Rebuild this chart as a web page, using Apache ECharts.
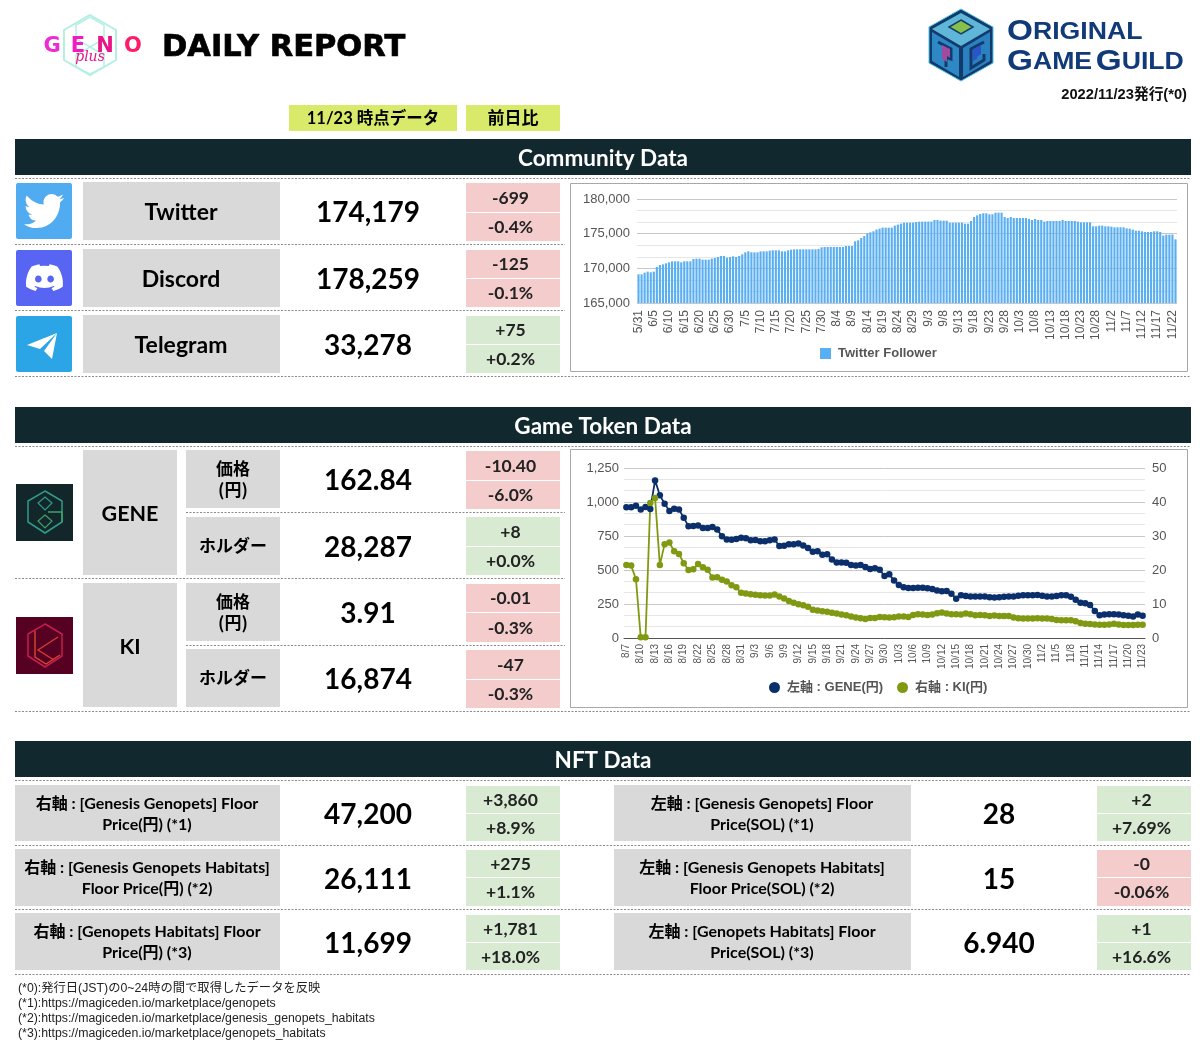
<!DOCTYPE html>
<html><head><meta charset="utf-8">
<style>html,body{margin:0;padding:0;background:#fff}#c{width:1200px;height:1050px}</style>
<script src="https://cdn.jsdelivr.net/npm/echarts@6/dist/echarts.min.js"></script>
</head><body><div id="c"></div>
<script>
const twitterDates = ["5/31",
"6/1","6/2","6/3","6/4","6/5","6/6","6/7","6/8","6/9","6/10","6/11","6/12","6/13","6/14","6/15","6/16","6/17","6/18","6/19","6/20","6/21","6/22","6/23","6/24","6/25","6/26","6/27","6/28","6/29","6/30",
"7/1","7/2","7/3","7/4","7/5","7/6","7/7","7/8","7/9","7/10","7/11","7/12","7/13","7/14","7/15","7/16","7/17","7/18","7/19","7/20","7/21","7/22","7/23","7/24","7/25","7/26","7/27","7/28","7/29","7/30","7/31",
"8/1","8/2","8/3","8/4","8/5","8/6","8/7","8/8","8/9","8/10","8/11","8/12","8/13","8/14","8/15","8/16","8/17","8/18","8/19","8/20","8/21","8/22","8/23","8/24","8/25","8/26","8/27","8/28","8/29","8/30","8/31",
"9/1","9/2","9/3","9/4","9/5","9/6","9/7","9/8","9/9","9/10","9/11","9/12","9/13","9/14","9/15","9/16","9/17","9/18","9/19","9/20","9/21","9/22","9/23","9/24","9/25","9/26","9/27","9/28","9/29","9/30",
"10/1","10/2","10/3","10/4","10/5","10/6","10/7","10/8","10/9","10/10","10/11","10/12","10/13","10/14","10/15","10/16","10/17","10/18","10/19","10/20","10/21","10/22","10/23","10/24","10/25","10/26","10/27","10/28","10/29","10/30","10/31",
"11/1","11/2","11/3","11/4","11/5","11/6","11/7","11/8","11/9","11/10","11/11","11/12","11/13","11/14","11/15","11/16","11/17","11/18","11/19","11/20","11/21","11/22","11/23"];
const twitterFollowers = [
169135,169135,169375,169520,169425,169520,170190,170480,170575,170720,
170865,171010,171010,171010,170865,171010,171010,171010,171350,171395,
171395,171250,171250,171250,171395,171490,171635,171780,171780,171540,
171635,171730,171635,171780,172020,172310,172450,172310,172310,172310,
172450,172450,172450,172550,172600,172600,172600,172450,172450,172600,
172690,172740,172740,172740,172740,172740,172740,172740,172740,172790,
173030,173080,173080,173080,173080,173080,173080,173080,173220,173220,
173220,173895,174040,174375,174665,175050,175190,175340,175580,175720,
175865,175865,175865,175865,176155,176300,176445,176590,176590,176590,
176590,176685,176735,176735,176735,176735,176735,176970,176970,176875,
176875,176875,176590,176590,176590,176590,176590,176445,176445,176830,
177405,177645,177840,177935,177935,177790,177790,178030,178030,178030,
177405,177260,177405,177260,177260,177260,177260,177260,177115,176970,
177115,176970,176970,176735,176830,176830,176830,176830,176830,176970,
176830,176830,176830,176830,176735,176640,176640,176640,176640,176060,
176060,176155,176155,176060,176060,176010,175915,175915,175915,175915,
175770,175720,175580,175435,175435,175340,175240,175240,175240,175340,
175340,175240,174725,174860,174860,174878,174179];
const tokenDates = ["8/7","8/8","8/9","8/10","8/11","8/12","8/13","8/14","8/15","8/16","8/17","8/18","8/19","8/20","8/21","8/22","8/23","8/24","8/25","8/26","8/27","8/28","8/29","8/30","8/31",
"9/1","9/2","9/3","9/4","9/5","9/6","9/7","9/8","9/9","9/10","9/11","9/12","9/13","9/14","9/15","9/16","9/17","9/18","9/19","9/20","9/21","9/22","9/23","9/24","9/25","9/26","9/27","9/28","9/29","9/30",
"10/1","10/2","10/3","10/4","10/5","10/6","10/7","10/8","10/9","10/10","10/11","10/12","10/13","10/14","10/15","10/16","10/17","10/18","10/19","10/20","10/21","10/22","10/23","10/24","10/25","10/26","10/27","10/28","10/29","10/30","10/31",
"11/1","11/2","11/3","11/4","11/5","11/6","11/7","11/8","11/9","11/10","11/11","11/12","11/13","11/14","11/15","11/16","11/17","11/18","11/19","11/20","11/21","11/22","11/23"];
const genePrice = [
961,961,973,944,963,949,1159,1049,988,934,
951,944,885,821,824,828,809,809,816,797,
748,725,723,728,738,733,718,721,711,711,
718,725,676,679,689,689,694,681,662,635,
637,613,615,578,556,556,554,537,534,537,
522,507,512,502,456,468,422,390,373,368,
368,370,370,365,360,350,343,346,326,289,
314,309,306,306,306,306,299,297,299,304,
306,306,311,314,314,314,316,311,306,306,
309,314,314,304,282,260,255,243,199,167,
172,174,174,172,167,164,159,172,162.84];
const kiPrice = [
21.5,21.3,17.3,0.2,0.2,39.7,41.2,21.5,27.6,28.1,
25.5,24.7,22,20,20.2,21.8,20.8,20.1,17.8,17.9,
17.1,16.6,15.5,14.9,13.3,13.1,12.9,12.7,12.6,12.5,
12.5,12.8,12.2,11.6,10.9,10.4,9.9,9.6,9.2,8.3,
8.1,7.9,7.7,7.4,7.2,6.9,6.7,6.3,6,5.8,
5.6,5.9,5.9,6.2,6.1,6,6.1,6.3,6.3,6.2,
6.8,7,6.9,6.8,6.9,7.3,7.5,7.2,7,7,
6.9,7.2,7,6.7,6.8,6.7,6.5,6.6,6.5,6.5,
6.5,6,5.8,5.7,5.7,5.7,5.8,5.7,5.7,5.6,
5.3,5.2,5.2,5.2,4.9,4.4,4.2,4.1,4,3.9,
3.9,4,4.2,4,3.8,3.8,3.8,3.9,3.91];
const seriesNames = ["Twitter Follower","左軸 : GENE(円)","右軸 : KI(円)"];
const communityNames = ["Twitter","Discord","Telegram"];
const communityValues = ["174,179","178,259","33,278"];
const communityDiffs = [["-699","-0.4%"],["-125","-0.1%"],["+75","+0.2%"]];
const tokenValues = ["162.84","28,287","3.91","16,874"];
const tokenDiffs = [["-10.40","-6.0%"],["+8","+0.0%"],["-0.01","-0.3%"],["-47","-0.3%"]];
const nftLeftNames = ["右軸 : [Genesis Genopets] Floor\nPrice(円) (*1)","右軸 : [Genesis Genopets Habitats]\nFloor Price(円) (*2)","右軸 : [Genopets Habitats] Floor\nPrice(円) (*3)"];
const nftLeftValues = ["47,200","26,111","11,699"];
const nftLeftDiffs = [["+3,860","+8.9%"],["+275","+1.1%"],["+1,781","+18.0%"]];
const nftRightNames = ["左軸 : [Genesis Genopets] Floor\nPrice(SOL) (*1)","左軸 : [Genesis Genopets Habitats]\nFloor Price(SOL) (*2)","左軸 : [Genopets Habitats] Floor\nPrice(SOL) (*3)"];
const nftRightValues = ["28","15","6.940"];
const nftRightDiffs = [["+2","+7.69%"],["-0","-0.06%"],["+1","+16.6%"]];
const footnotes = ["(*0):発行日(JST)の0~24時の間で取得したデータを反映","(*1):https://magiceden.io/marketplace/genopets","(*2):https://magiceden.io/marketplace/genesis_genopets_habitats","(*3):https://magiceden.io/marketplace/genopets_habitats"];

const BODY = 'Lato,"Noto Sans CJK JP",sans-serif';
const ARIAL = '"Liberation Sans","Noto Sans CJK JP",sans-serif';
const G = [];
const rect=(x,y,w,h,fill,extra)=>G.push({type:'rect',silent:true,shape:Object.assign({x,y,width:w,height:h},extra||{}),style:{fill}});
const txt=(text,x,y,font,fill,align,lh)=>G.push({type:'text',silent:true,style:{text,x,y,font,fill:fill||'#000',align:align||'center',verticalAlign:'middle',lineHeight:lh}});
const dot=(x1,x2,y)=>G.push({type:'line',silent:true,shape:{x1,y1:y+.5,x2,y2:y+.5},style:{stroke:'#8a8a8a',lineWidth:1,lineDash:[2,1.5]}});
const poly=(points,fill,stroke,lw)=>G.push({type:'polygon',silent:true,shape:{points},style:{fill:fill||'none',stroke,lineWidth:lw||0}});
const pline=(points,stroke,lw)=>G.push({type:'polyline',silent:true,shape:{points},style:{fill:'none',stroke,lineWidth:lw||1}});
echarts.graphic.registerShape('twitterBird',echarts.graphic.extendPath('M23.953 4.57a10 10 0 0 1-2.825.775 4.958 4.958 0 0 0 2.163-2.723c-.951.555-2.005.959-3.127 1.184a4.92 4.92 0 0 0-8.384 4.482C7.69 8.095 4.067 6.13 1.64 3.162a4.822 4.822 0 0 0-.666 2.475c0 1.71.87 3.213 2.188 4.096a4.904 4.904 0 0 1-2.228-.616v.06a4.923 4.923 0 0 0 3.946 4.827 4.996 4.996 0 0 1-2.212.085 4.936 4.936 0 0 0 4.604 3.417 9.867 9.867 0 0 1-6.102 2.105c-.39 0-.779-.023-1.17-.067a13.995 13.995 0 0 0 7.557 2.209c9.053 0 13.998-7.496 13.998-13.985 0-.21 0-.42-.015-.63A9.935 9.935 0 0 0 24 4.59z',{}));
echarts.graphic.registerShape('discordFace',echarts.graphic.extendPath('M20.317 4.37a19.791 19.791 0 0 0-4.885-1.515.074.074 0 0 0-.079.037c-.21.375-.444.864-.608 1.25a18.27 18.27 0 0 0-5.487 0 12.64 12.64 0 0 0-.617-1.25.077.077 0 0 0-.079-.037A19.736 19.736 0 0 0 3.677 4.37a.07.07 0 0 0-.032.027C.533 9.046-.32 13.58.099 18.057a.082.082 0 0 0 .031.057 19.9 19.9 0 0 0 5.993 3.03.078.078 0 0 0 .084-.028 14.09 14.09 0 0 0 1.226-1.994.076.076 0 0 0-.041-.106 13.107 13.107 0 0 1-1.872-.892.077.077 0 0 1-.008-.128 10.2 10.2 0 0 0 .372-.292.074.074 0 0 1 .077-.01c3.928 1.793 8.18 1.793 12.062 0a.074.074 0 0 1 .078.01c.12.098.246.198.373.292a.077.077 0 0 1-.006.127 12.299 12.299 0 0 1-1.873.892.077.077 0 0 0-.041.107c.36.698.772 1.362 1.225 1.993a.076.076 0 0 0 .084.028 19.839 19.839 0 0 0 6.002-3.03.077.077 0 0 0 .032-.054c.5-5.177-.838-9.674-3.549-13.66a.061.061 0 0 0-.031-.03zM8.02 15.33c-1.183 0-2.157-1.085-2.157-2.419 0-1.333.956-2.419 2.157-2.419 1.21 0 2.176 1.096 2.157 2.42 0 1.333-.956 2.418-2.157 2.418zm7.975 0c-1.183 0-2.157-1.085-2.157-2.419 0-1.333.955-2.419 2.157-2.419 1.21 0 2.176 1.096 2.157 2.42 0 1.333-.946 2.418-2.157 2.418z',{}));
const icon=(type,x,y,sx,sy,fill)=>G.push({type,silent:true,x,y,scaleX:sx,scaleY:sy,shape:{},style:{fill}});
const PINK='#f4cccc',GREEN='#d9ead3',CELL='#d9d9d9',BAND='#10282e',LIME='#d9ea6b';
const diffColor=s=>s[0]==='+'?GREEN:PINK;
function diffCell(x,w,y1,y2,y3,pair){
  const c=diffColor(pair[0]);
  rect(x,y1,w,y2-y1-1,c); rect(x,y2,w,y3-y2,c);
  const f='bold 17.5px '+BODY;
  txt(pair[0],x+w/2-2.5,(y1+y2-1)/2+.5,f,'#222'); txt(pair[1],x+w/2-2.5,(y2+y3)/2+.5,f,'#222');
}
function band(y,t){rect(15,y,1176,36,BAND);txt(t,603,y+20,'bold 22.5px '+BODY,'#fff');}

// Header: GENO logo
const hx=90,hy=45;
poly([[hx,hy-30],[hx+26,hy-15],[hx+26,hy+15],[hx,hy+30],[hx-26,hy+15],[hx-26,hy-15]],'none','#b5efe4',2);
poly([[hx,hy-28],[hx+14,hy-20],[hx+14,hy-6],[hx,hy+2],[hx-14,hy-6],[hx-14,hy-20]],'none','#b5efe4',1.5);
poly([[hx,hy+2],[hx+14,hy+10],[hx+14,hy+22],[hx,hy+29],[hx-14,hy+22],[hx-14,hy+10]],'none','#b5efe4',1.5);
[['G',52,'#ee2ad2'],['E',78,'#f01cc0'],['N',105,'#e81488'],['O',133,'#ff1a6a']].forEach(l=>txt(l[0],l[1],hy+2,'bold 21px "DejaVu Sans"',l[2]));
G.push({type:'text',silent:true,style:{text:'plus',x:90,y:57,font:'italic 14px "DejaVu Serif"',fill:'#e81488',align:'center',verticalAlign:'middle'}});
G.push({type:'text',silent:true,style:{text:'DAILY REPORT',x:162,y:48,font:'bold 30.5px "DejaVu Sans"',fill:'#000',stroke:'#000',lineWidth:.7,align:'left',verticalAlign:'middle'}});

// Header: OGG logo
const cx=961;
poly([[cx,9],[993,27],[993,63],[cx,81],[929,63],[929,27]],'#123a6b','#4fc3e8',1);
poly([[cx,13],[990,29],[cx,46],[932,29]],'#5fb6d8');
poly([[932,32],[959,48],[959,77],[932,61]],'#2f88c6');
poly([[990,32],[963,48],[963,77],[990,61]],'#2b80c0');
poly([[cx,20],[973,27],[cx,34],[949,27]],'#86bf4a','#123a6b',1.5);
pline([[938,42],[951,49],[951,59],[946,57],[946,67]],'#123a6b',3);
pline([[984,42],[971,49],[971,68],[984,60],[984,54]],'#123a6b',3);
poly([[942,45],[950,49],[950,58],[947,56],[947,62],[942,59]],'#a04aa0');
poly([[973,49],[981,45],[981,54],[977,57],[977,59],[973,61]],'#2a55c8');
const logoRich={a:{font:'bold 30px "Liberation Sans"',fill:'#103a78'},b:{font:'bold 24px "Liberation Sans"',fill:'#103a78'}};
G.push({type:'text',silent:true,x:1007,y:32,scaleX:1.11,style:{text:'{a|O}{b|RIGINAL}',x:0,y:0,align:'left',verticalAlign:'middle',rich:logoRich}});
G.push({type:'text',silent:true,x:1007,y:62,scaleX:1.11,style:{text:'{a|G}{b|AME} {a|G}{b|UILD}',x:0,y:0,align:'left',verticalAlign:'middle',rich:logoRich}});
txt('2022/11/23発行(*0)',1187,95,'bold 14.7px '+ARIAL,'#111','right');

// Column titles
rect(289,105,168,26,LIME);txt('11/23 時点データ',373,119,'bold 16.5px '+BODY,'#000');
rect(466,105,94,26,LIME);txt('前日比',513,119,'bold 17px '+BODY,'#000');

// Community
band(139,'Community Data');
dot(15,1191,178);dot(15,565,244);dot(15,565,310);dot(15,1191,376);
const commY=[[183,239],[250,306],[316,372]];
const commIcon=['#50abf1','#5865f2','#2ca5e6'];
const commDiffY=[[183,213,241],[250,279,307],[316,345,373]];
commY.forEach((r,i)=>{
  rect(16,r[0],56,56,commIcon[i],{r:2});
  rect(83,r[0]-1,197,58,CELL);
  txt(communityNames[i],181,r[0]+30,'bold 23px '+BODY);
  txt(communityValues[i],368,r[0]+30,'bold 28px '+BODY);
  diffCell(466,94,commDiffY[i][0],commDiffY[i][1],commDiffY[i][2],communityDiffs[i]);
});
icon('twitterBird',24,190,1.67,1.75,'#fff');
icon('discordFace',26,260,1.54,1.47,'#fff');
poly([[57,333],[27,345],[40,349],[57,333],[44,351],[52,359]],'#fff');
G.push({type:'rect',silent:true,shape:{x:570.5,y:183.5,width:617,height:188},style:{fill:'none',stroke:'#a8a8a8',lineWidth:1}});

// Game Token
band(407,'Game Token Data');
dot(15,1191,446);dot(186,565,512);dot(15,565,578);dot(186,565,645);dot(15,1191,711);
rect(83,450,94,125,CELL);txt('GENE',130,514,'bold 21.5px '+BODY);
rect(83,583,94,124,CELL);txt('KI',130,647,'bold 21.5px '+BODY);
const tokY=[[450,508],[517,575],[583,641],[649,707]];
const tokDiffY=[[451,481,509],[517,547,575],[584,613,642],[650,680,708]];
tokY.forEach((r,i)=>{
  rect(186,r[0],94,r[1]-r[0],CELL);
  if(i%2===0) txt('価格\n(円)',233,(r[0]+r[1])/2,'bold 17px "Noto Sans CJK JP"','#000','center',21);
  else txt('ホルダー',233,(r[0]+r[1])/2,'bold 17px "Noto Sans CJK JP"');
  txt(tokenValues[i],368,(r[0]+r[1])/2+2,'bold 28px '+BODY);
  diffCell(466,94,tokDiffY[i][0],tokDiffY[i][1],tokDiffY[i][2],tokenDiffs[i]);
});
// GENE icon
rect(16,484,57,57,'#13272b');
poly([[45,491],[62,501],[62,522],[45,533],[28,522],[28,501]],'none','#2f9c8a',1.5);
poly([[45,497],[52,503],[45,510],[38,503]],'none','#2f9c8a',1.2);
poly([[45,515],[52,521],[45,528],[38,521]],'none','#3da36a',1.2);
pline([[48,512],[62,512],[62,522]],'#3da36a',1.5);
// KI icon
rect(16,617,57,57,'#560022');
poly([[45,624],[62,634],[62,656],[45,667],[28,656],[28,634]],'none','#c41e50',1.5);
pline([[35,631],[35,657],[46,664],[60,655]],'#d84830',1.4);
pline([[58,637],[38,650],[54,660]],'#d83a3a',1.4);
G.push({type:'rect',silent:true,shape:{x:570.5,y:449.5,width:617,height:258},style:{fill:'none',stroke:'#a8a8a8',lineWidth:1}});

// NFT
band(741,'NFT Data');
dot(15,1191,780);dot(15,1191,845);dot(15,1191,909);dot(15,1191,974);
const nftY=[[785,841],[849,906],[913,970]];
const nftDiffY=[[786,814,841],[850,878,906],[915,943,970]];
nftY.forEach((r,i)=>{
  const m=(r[0]+r[1])/2;
  rect(15,r[0],265,r[1]-r[0],CELL);
  txt(nftLeftNames[i],147,m+1,'bold 16px '+BODY,'#000','center',21);
  txt(nftLeftValues[i],368,m+2,'bold 28px '+BODY);
  diffCell(466,94,nftDiffY[i][0],nftDiffY[i][1],nftDiffY[i][2],nftLeftDiffs[i]);
  rect(614,r[0],297,r[1]-r[0],CELL);
  txt(nftRightNames[i],762,m+1,'bold 16px '+BODY,'#000','center',21);
  txt(nftRightValues[i],999,m+2,'bold 28px '+BODY);
  diffCell(1097,94,nftDiffY[i][0],nftDiffY[i][1],nftDiffY[i][2],nftRightDiffs[i]);
});
footnotes.forEach((t,i)=>txt(t,18,989+i*15,'12.3px '+ARIAL,'#222','left'));

const axisText={fontFamily:ARIAL,color:'#555'};
const minorLine={show:true,lineStyle:{color:'#e6e6e6',width:1}};
const majorLine={show:true,lineStyle:{color:'#c8c8c8',width:1}};
const legendText={fontFamily:ARIAL,fontSize:13,color:'#555',fontWeight:'bold',padding:[0,0,0,2]};
const option={
  animation:false,
  textStyle:{fontFamily:ARIAL},
  graphic:{elements:G},
  grid:[
    {left:637,top:199,width:540,height:104},
    {left:624,top:468,width:521,height:170}
  ],
  legend:[
    {left:815,top:342,data:[seriesNames[0]],icon:'rect',itemWidth:11,itemHeight:11,itemGap:8,textStyle:legendText},
    {left:764,top:676,data:[seriesNames[1],seriesNames[2]],icon:'circle',itemWidth:11,itemHeight:11,itemGap:14,textStyle:legendText}
  ],
  xAxis:[
    {type:'category',gridIndex:0,data:twitterDates,axisTick:{show:false},axisLine:{show:false},
     axisLabel:Object.assign({},axisText,{rotate:90,interval:4,fontSize:12,margin:7})},
    {type:'category',gridIndex:1,data:tokenDates,axisTick:{show:false},axisLine:{show:true,lineStyle:{color:'#555'}},
     axisLabel:Object.assign({},axisText,{rotate:90,interval:2,fontSize:10,margin:6})}
  ],
  yAxis:[
    {type:'value',gridIndex:0,min:165000,max:180000,interval:5000,axisLine:{show:false},axisTick:{show:false},
     axisLabel:Object.assign({},axisText,{fontSize:13,margin:7,formatter:v=>v.toLocaleString('en-US')}),
     splitLine:majorLine,minorTick:{show:false,splitNumber:3},minorSplitLine:minorLine},
    {type:'value',gridIndex:1,min:0,max:1250,interval:250,axisLine:{show:false},axisTick:{show:false},
     axisLabel:Object.assign({},axisText,{fontSize:13,margin:5,formatter:v=>v.toLocaleString('en-US')}),
     splitLine:majorLine,minorTick:{show:false,splitNumber:3},minorSplitLine:minorLine},
    {type:'value',gridIndex:1,position:'right',min:0,max:50,interval:10,axisLine:{show:false},axisTick:{show:false},
     axisLabel:Object.assign({},axisText,{fontSize:13,margin:7}),splitLine:{show:false}}
  ],
  series:[
    {name:seriesNames[0],type:'bar',xAxisIndex:0,yAxisIndex:0,data:twitterFollowers,barWidth:'70%',itemStyle:{color:'#5aaef2'}},
    {name:seriesNames[1],type:'line',xAxisIndex:1,yAxisIndex:1,data:genePrice,symbol:'circle',symbolSize:6.5,showAllSymbol:true,lineStyle:{color:'#0b2f6b',width:1.8},itemStyle:{color:'#0b2f6b'}},
    {name:seriesNames[2],type:'line',xAxisIndex:1,yAxisIndex:2,data:kiPrice,symbol:'circle',symbolSize:6.5,showAllSymbol:true,lineStyle:{color:'#7f9a12',width:1.8},itemStyle:{color:'#7f9a12'}}
  ]
};
echarts.init(document.getElementById('c'),null,{renderer:'canvas'}).setOption(option);
</script></body></html>
